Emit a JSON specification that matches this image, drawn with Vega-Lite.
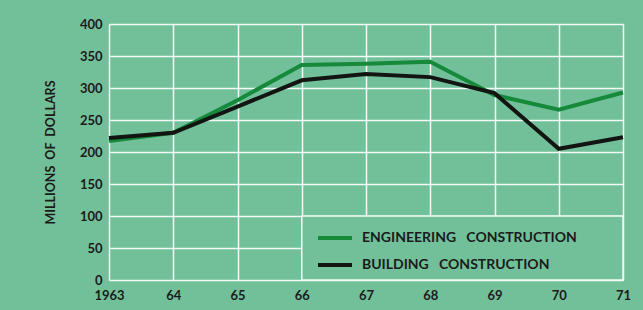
{
  "$schema": "https://vega.github.io/schema/vega-lite/v6.json",
  "autosize": {"type": "none"},
  "width": 514,
  "height": 256,
  "padding": {"left": 109, "top": 24, "right": 20, "bottom": 30},
  "background": "#72c09a",
  "config": {
    "view": {"stroke": null},
    "font": "Lato",
    "axis": {
      "gridColor": "#f4fbf6",
      "gridWidth": 1.5,
      "gridOpacity": 1,
      "domain": false,
      "ticks": false,
      "labelOverlap": false,
      "labelFont": "Lato",
      "labelFontWeight": "bold",
      "labelFontSize": 13,
      "labelColor": "#1b1b1b",
      "titleFont": "Lato",
      "titleFontWeight": "bold",
      "titleFontSize": 12.5,
      "titleColor": "#1b1b1b"
    }
  },
  "encoding": {
    "x": {
      "field": "year",
      "type": "quantitative",
      "scale": {"domain": [1963, 1971], "nice": false, "zero": false},
      "axis": {
        "title": null,
        "values": [1963, 1964, 1965, 1966, 1967, 1968, 1969, 1970, 1971],
        "labelExpr": "datum.value == 1963 ? '1963' : slice(toString(datum.value), 2)",
        "labelPadding": 9,
        "labelFlush": false
      }
    },
    "y": {
      "field": "value",
      "type": "quantitative",
      "scale": {"domain": [0, 400], "nice": false},
      "axis": {
        "title": "MILLIONS\u00a0\u00a0OF\u00a0\u00a0DOLLARS",
        "values": [0, 50, 100, 150, 200, 250, 300, 350, 400],
        "labelPadding": 7,
        "titlePadding": 22
      }
    }
  },
  "layer": [
    {
      "data": {"values": [{"year": 1966, "year2": 1971, "value": 0, "value2": 100}]},
      "mark": {"type": "rect", "fill": "#72c09a", "stroke": "#f4fbf6", "strokeWidth": 1.5},
      "encoding": {
        "x2": {"field": "year2"},
        "y2": {"field": "value2"}
      }
    },
    {
      "data": {
        "values": [
          {"year": 1963, "series": "ENGINEERING CONSTRUCTION", "value": 217},
          {"year": 1964, "series": "ENGINEERING CONSTRUCTION", "value": 230},
          {"year": 1965, "series": "ENGINEERING CONSTRUCTION", "value": 281},
          {"year": 1966, "series": "ENGINEERING CONSTRUCTION", "value": 336},
          {"year": 1967, "series": "ENGINEERING CONSTRUCTION", "value": 338},
          {"year": 1968, "series": "ENGINEERING CONSTRUCTION", "value": 341},
          {"year": 1969, "series": "ENGINEERING CONSTRUCTION", "value": 289},
          {"year": 1970, "series": "ENGINEERING CONSTRUCTION", "value": 266},
          {"year": 1971, "series": "ENGINEERING CONSTRUCTION", "value": 293},
          {"year": 1963, "series": "BUILDING CONSTRUCTION", "value": 222},
          {"year": 1964, "series": "BUILDING CONSTRUCTION", "value": 230},
          {"year": 1965, "series": "BUILDING CONSTRUCTION", "value": 271},
          {"year": 1966, "series": "BUILDING CONSTRUCTION", "value": 312},
          {"year": 1967, "series": "BUILDING CONSTRUCTION", "value": 322},
          {"year": 1968, "series": "BUILDING CONSTRUCTION", "value": 317},
          {"year": 1969, "series": "BUILDING CONSTRUCTION", "value": 292},
          {"year": 1970, "series": "BUILDING CONSTRUCTION", "value": 205},
          {"year": 1971, "series": "BUILDING CONSTRUCTION", "value": 223}
        ]
      },
      "mark": {"type": "line", "strokeWidth": 4, "strokeJoin": "miter"},
      "encoding": {
        "color": {
          "field": "series",
          "type": "nominal",
          "sort": ["ENGINEERING CONSTRUCTION", "BUILDING CONSTRUCTION"],
          "scale": {"domain": ["ENGINEERING CONSTRUCTION", "BUILDING CONSTRUCTION"], "range": ["#16893a", "#121512"]},
          "legend": {
            "title": null,
            "orient": "none",
            "legendX": 207,
            "legendY": 195,
            "symbolType": "stroke",
            "symbolSize": 1156,
            "symbolStrokeWidth": 4,
            "labelFont": "Lato",
            "labelFontWeight": "bold",
            "labelFontSize": 14,
            "labelColor": "#1b1b1b",
            "labelLimit": 400,
            "labelOffset": 8,
            "rowPadding": -8,
            "labelExpr": "replace(datum.label, ' ', '\u00a0\u00a0\u00a0')"
          }
        }
      }
    }
  ]
}
